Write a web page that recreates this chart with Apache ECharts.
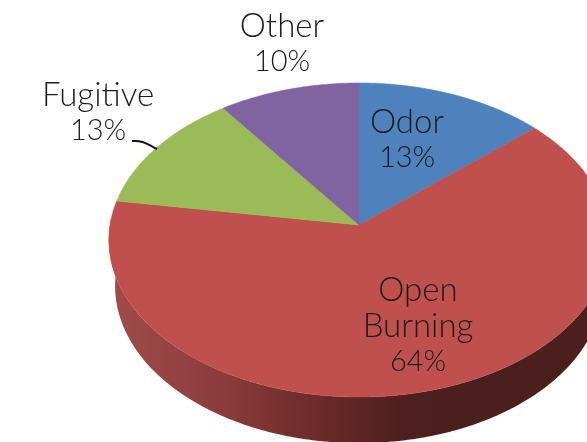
<!DOCTYPE html>
<html>
<head>
<meta charset="utf-8">
<style>html,body{margin:0;padding:0;background:#fff}#c{width:587px;height:442px}</style>
<script src="https://cdn.jsdelivr.net/npm/echarts@6/dist/echarts.min.js"></script>
</head>
<body>
<div id="c"></div>
<script>
const categories = ['Odor', 'Open Burning', 'Fugitive', 'Other'];
const sliceValues = [13.5, 64, 12.5, 10];
const percentLabels = ['13%', '64%', '13%', '10%'];
const labelLines = [['Odor', '13%'], ['Open', 'Burning', '64%'], ['Fugitive', '13%'], ['Other', '10%']];
const sliceColors = ['#4f81bd', '#c0504d', '#9bbb59', '#8064a2'];
const labelCenters = [[407, 140], [418, 326], [98, 113], [282, 44]];

const CX = 359, CY = 225, A = 249, B = 155.6, P = 0.0955, DEPTH = 46, BASE_SCALE = 0.975;
const total = sliceValues.reduce((s, v) => s + v, 0);

function rim(deg) {
  const t = deg * Math.PI / 180, u = Math.sin(t), v = -Math.cos(t), d = 1 - P * v;
  return [CX + A * u / d, CY + B * v / d];
}
function sliceAngles(i) {
  let before = 0;
  for (let k = 0; k < i; k++) before += sliceValues[k];
  return [before / total * 360, (before + sliceValues[i]) / total * 360];
}
function arcPoints(a0, a1) {
  const pts = [], n = Math.max(2, Math.ceil(Math.abs(a1 - a0) * 2));
  for (let k = 0; k <= n; k++) pts.push(rim(a0 + (a1 - a0) * k / n));
  return pts;
}

const wallGradient = new echarts.graphic.LinearGradient(110, 0, 440, 0, [
  { offset: 0, color: '#a04c4a' },
  { offset: 0.35, color: '#8a3c3a' },
  { offset: 0.6, color: '#6e2c2a' },
  { offset: 0.88, color: '#4f201f' },
  { offset: 1, color: '#4c1f1f' }
], true);

function renderItem(params) {
  const i = params.dataIndex;
  const [a0, a1] = sliceAngles(i);
  const children = [];
  if (categories[i] === 'Open Burning') {
    const front = arcPoints(90, 272);
    const base = front.map(p => [CX + (p[0] - CX) * BASE_SCALE, p[1] + DEPTH]).reverse();
    children.push({ type: 'polygon', shape: { points: front.concat(base) }, style: { fill: wallGradient }, z2: 1 });
  }
  children.push({
    type: 'polygon',
    shape: { points: [[CX, CY]].concat(arcPoints(a0, a1)) },
    style: { fill: sliceColors[i], stroke: sliceColors[i], lineWidth: 0.5 },
    z2: 2
  });
  if (categories[i] === 'Fugitive') {
    children.push({
      type: 'bezierCurve',
      shape: { x1: 132, y1: 141, x2: 157, y2: 149, cpx1: 144, cpy1: 140, cpx2: 148, cpy2: 145 },
      style: { stroke: '#111', lineWidth: 2, fill: null },
      z2: 3
    });
  }
  const lines = labelLines[i], lh = 36, c = labelCenters[i];
  lines.forEach((t, k) => {
    const size = t.indexOf('%') >= 0 ? 29 : 33;
    children.push({
      type: 'text',
      x: c[0],
      y: c[1] + (k - (lines.length - 1) / 2) * lh,
      style: {
        text: t, align: 'center', verticalAlign: 'middle',
        font: '300 ' + size + 'px Lato, "Open Sans", sans-serif', fill: '#1c1c1c'
      },
      z2: 4
    });
  });
  return { type: 'group', children };
}

const chart = echarts.init(document.getElementById('c'), null, { renderer: 'canvas', width: 587, height: 442 });
chart.setOption({
  animation: false,
  backgroundColor: '#fff',
  series: [{
    type: 'custom',
    coordinateSystem: 'none',
    clip: false,
    renderItem,
    data: categories.map((name, i) => ({ name, value: [sliceValues[i]], label: percentLabels[i] }))
  }]
});
</script>
</body>
</html>
